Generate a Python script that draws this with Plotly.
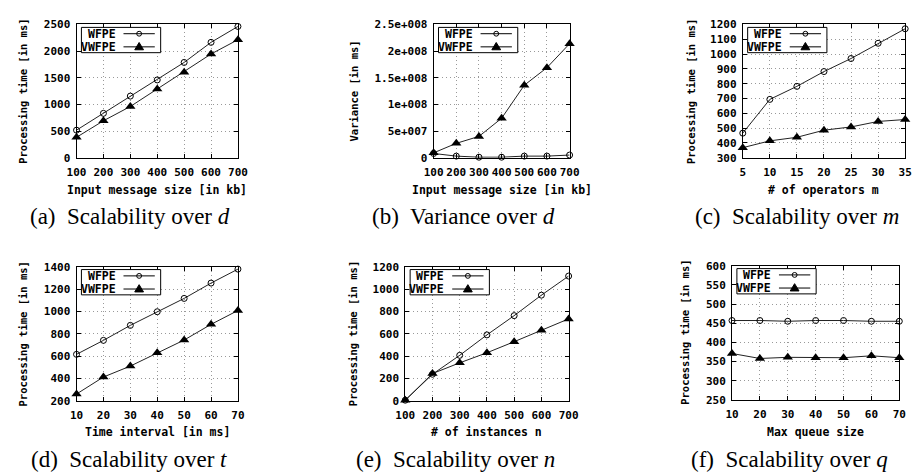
import plotly.graph_objects as go

# ---------------- data ----------------
x_d = [100, 200, 300, 400, 500, 600, 700]
wfpe_d = [517, 833, 1156, 1460, 1788, 2165, 2463]
vwfpe_d = [383, 693, 961, 1290, 1606, 1946, 2214]

x_var = [100, 200, 300, 400, 500, 600, 700]
wfpe_var = [8e6, 3e6, 1e6, 1e6, 3e6, 3e6, 5e6]
vwfpe_var = [9.1e6, 2.7e7, 4.0e7, 7.4e7, 1.36e8, 1.69e8, 2.14e8]

x_m = [5, 10, 15, 20, 25, 30, 35]
wfpe_m = [466, 694, 782, 882, 970, 1073, 1171]
vwfpe_m = [368, 414, 438, 486, 508, 545, 558]

x_t = [10, 20, 30, 40, 50, 60, 70]
wfpe_t = [616, 741, 875, 997, 1116, 1253, 1378]
vwfpe_t = [261, 413, 511, 631, 744, 884, 1008]

x_n = [100, 200, 300, 400, 500, 600, 700]
wfpe_n = [6, 238, 407, 590, 762, 945, 1116]
vwfpe_n = [6, 244, 340, 430, 529, 631, 733]

x_q = [10, 20, 30, 40, 50, 60, 70]
wfpe_q = [457, 457, 455, 457, 457, 455, 455]
vwfpe_q = [371, 358, 361, 360, 360, 365, 360]

yticks_d = [0, 500, 1000, 1500, 2000, 2500]
yticks_var = [0, 5e7, 1e8, 1.5e8, 2e8, 2.5e8]
yticklabels_var = ["0", "5e+007", "1e+008", "1.5e+008", "2e+008", "2.5e+008"]
yticks_m = [300, 400, 500, 600, 700, 800, 900, 1000, 1100, 1200]
yticks_t = [200, 400, 600, 800, 1000, 1200, 1400]
yticks_n = [0, 200, 400, 600, 800, 1000, 1200]
yticks_q = [250, 300, 350, 400, 450, 500, 550, 600]

series_names = ["WFPE", "VWFPE"]
ytitle_time = "Processing time [in ms]"
ytitle_var = "Variance [in ms]"
xtitles = ["Input message size [in kb]", "Input message size [in kb]", "# of operators m",
           "Time interval [in ms]", "# of instances n", "Max queue size"]
captions = ["(a)  Scalability over <i>d</i>", "(b)  Variance over <i>d</i>", "(c)  Scalability over <i>m</i>",
            "(d)  Scalability over <i>t</i>", "(e)  Scalability over <i>n</i>", "(f)  Scalability over <i>q</i>"]

# ---------------- layout geometry (page pixels) ----------------
W, H = 923, 474
def fx(x): return x / W
def fy(y): return 1 - y / H

panels = [
    dict(x=x_d, w=wfpe_d, v=vwfpe_d, xl=(68, 233), yl=(19, 156), yr=(0, 2500), yt=yticks_d, ytt=None,
         ytitle=ytitle_time, ytx=13, xty=189, cap=(123, 216)),
    dict(x=x_var, w=wfpe_var, v=vwfpe_var, xl=(433, 572), yl=(19, 156), yr=(0, 2.5e8), yt=yticks_var,
         ytt=yticklabels_var, ytitle=ytitle_var, ytx=352, xty=189, cap=(464, 216)),
    dict(x=x_m, w=wfpe_m, v=vwfpe_m, xl=(749, 915), yl=(19, 156), yr=(300, 1200), yt=yticks_m, ytt=None,
         ytitle=ytitle_time, ytx=696, xty=189, cap=(804, 216)),
    dict(x=x_t, w=wfpe_t, v=vwfpe_t, xl=(68, 233), yl=(268, 406), yr=(200, 1400), yt=yticks_t, ytt=None,
         ytitle=ytitle_time, ytx=13, xty=438, cap=(122, 466)),
    dict(x=x_n, w=wfpe_n, v=vwfpe_n, xl=(404, 571), yl=(268, 406), yr=(0, 1200), yt=yticks_n, ytt=None,
         ytitle=ytitle_time, ytx=350, xty=438, cap=(455, 466)),
    dict(x=x_q, w=wfpe_q, v=vwfpe_q, xl=(738, 909), yl=(267, 405), yr=(250, 600), yt=yticks_q, ytt=None,
         ytitle=ytitle_time, ytx=690, xty=438, cap=(797, 466)),
]

MONO = "DejaVu Sans Mono"
tickfont = dict(family=MONO, size=11, color="black", weight="bold")
fig = go.Figure()
shapes = []
annotations = []
line_col = "#222222"

for i, p in enumerate(panels):
    n = i + 1
    xa = "x" if n == 1 else f"x{n}"
    ya = "y" if n == 1 else f"y{n}"
    fig.add_trace(go.Scatter(x=p["x"], y=p["w"], mode="lines+markers", name=series_names[0],
                             xaxis=xa, yaxis=ya, cliponaxis=False, showlegend=False,
                             line=dict(color=line_col, width=1),
                             marker=dict(symbol="circle-open", size=6, color="black",
                                         line=dict(width=1, color="black"))))
    fig.add_trace(go.Scatter(x=p["x"], y=p["v"], mode="lines+markers", name=series_names[1],
                             xaxis=xa, yaxis=ya, cliponaxis=False, showlegend=False,
                             line=dict(color=line_col, width=1),
                             marker=dict(symbol="triangle-up", size=9, color="black")))
    axkey = "xaxis" if n == 1 else f"xaxis{n}"
    aykey = "yaxis" if n == 1 else f"yaxis{n}"
    common = dict(showline=True, linecolor="black", linewidth=1, mirror="ticks", ticks="inside",
                  ticklen=4, tickcolor="black", tickwidth=1, showgrid=True, gridcolor="#999999",
                  griddash="1px,3px", gridwidth=1, zeroline=False, tickfont=tickfont)
    fig.update_layout(**{
        axkey: dict(domain=[fx(p["xl"][0]), fx(p["xl"][1])], range=[p["x"][0], p["x"][-1]],
                    tickvals=p["x"], anchor=ya, ticklabelstandoff=4, **common),
        aykey: dict(domain=[fy(p["yl"][1]), fy(p["yl"][0])], range=list(p["yr"]), tickvals=p["yt"],
                    ticktext=p["ytt"], anchor=xa, ticklabelstandoff=3, **common),
    })
    x0, x1 = p["xl"]
    y0, y1 = p["yl"]
    # axis titles
    annotations.append(dict(x=fx((x0 + x1) / 2), y=fy(p["xty"]), xref="paper", yref="paper",
                            text=xtitles[i], showarrow=False, xanchor="center", yanchor="middle",
                            font=dict(family=MONO, size=11.5, color="black", weight="bold")))
    annotations.append(dict(x=fx(p["ytx"]), y=fy((y0 + y1) / 2), xref="paper", yref="paper",
                            text=p["ytitle"], showarrow=False, textangle=-90, xanchor="center",
                            yanchor="middle",
                            font=dict(family=MONO, size=10.5, color="black", weight="bold")))
    # captions
    annotations.append(dict(x=fx(p["cap"][0]), y=fy(p["cap"][1]), xref="paper", yref="paper",
                            text=captions[i], showarrow=False, xanchor="center", yanchor="middle",
                            font=dict(family="Liberation Serif", size=23, color="black")))
    # legend box
    bx0, by0 = x0 + 5, y0 + 3
    bx1, by1 = bx0 + 81, by0 + 26
    shapes.append(dict(type="rect", xref="paper", yref="paper", x0=fx(bx0), x1=fx(bx1),
                       y0=fy(by1), y1=fy(by0), fillcolor="white", line=dict(color="black", width=1),
                       layer="above"))
    for k, name in enumerate(series_names):
        ry = by0 + 6.5 + 13.5 * k
        annotations.append(dict(x=fx(bx0 + 37), y=fy(ry), xref="paper", yref="paper", text=name,
                                showarrow=False, xanchor="right", yanchor="middle",
                                font=dict(family=MONO, size=11.5, color="black", weight="bold")))
        lx0, lx1 = bx0 + 43, bx0 + 75
        shapes.append(dict(type="line", xref="paper", yref="paper", x0=fx(lx0), x1=fx(lx1),
                           y0=fy(ry), y1=fy(ry), line=dict(color="black", width=1), layer="above"))
        cx = (lx0 + lx1) / 2
        if k == 0:
            shapes.append(dict(type="circle", xref="paper", yref="paper", x0=fx(cx - 2.5),
                               x1=fx(cx + 2.5), y0=fy(ry + 2.5), y1=fy(ry - 2.5),
                               line=dict(color="black", width=1), layer="above"))
        else:
            path = (f"M {fx(cx-4.5)},{fy(ry+3)} L {fx(cx+4.5)},{fy(ry+3)} "
                    f"L {fx(cx)},{fy(ry-4.5)} Z")
            shapes.append(dict(type="path", xref="paper", yref="paper", path=path,
                               fillcolor="black", line=dict(color="black", width=1), layer="above"))

fig.update_layout(width=W, height=H, autosize=False, margin=dict(l=0, r=0, t=0, b=0),
                  paper_bgcolor="white", plot_bgcolor="rgba(0,0,0,0)", showlegend=False,
                  shapes=shapes, annotations=annotations)
fig.write_html("out.html", post_script="document.body.style.margin='0px';",
               config={"displayModeBar": False})
